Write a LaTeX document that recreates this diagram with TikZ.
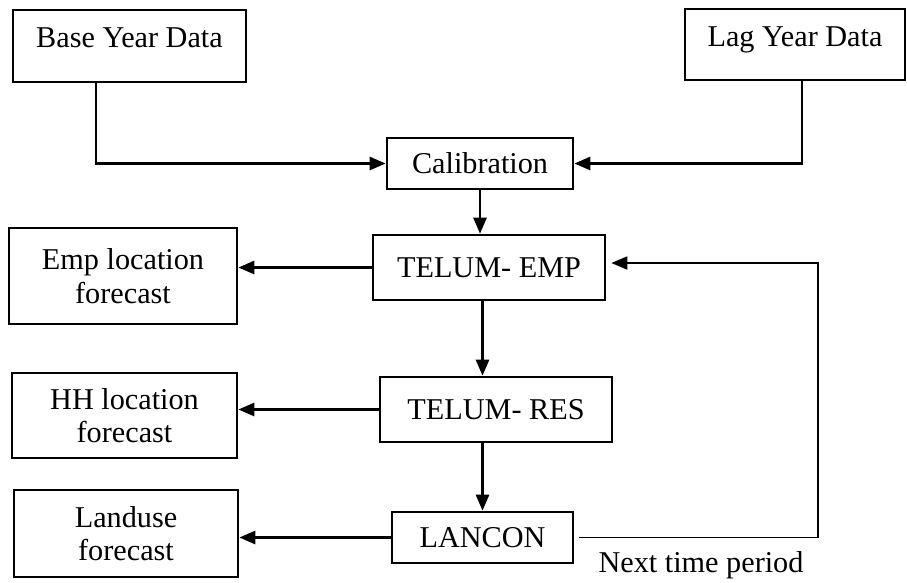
\documentclass[tikz,border=0pt]{standalone}
\usepackage{fontspec}
\setmainfont{Liberation Serif}
\usetikzlibrary{arrows.meta}

\begin{document}
\begin{tikzpicture}[x=1cm, y=1cm, line width=0.75pt,
    box/.style={draw, inner sep=0pt, align=center, font=\fontsize{8.6}{9.5}\selectfont},
    arr/.style={-{Triangle[length=0.16cm, width=0.13cm]}}]
    \useasboundingbox (0,0) rectangle (9.07,5.82);

    % input data and model chain
    \node[box, minimum width=2.33cm, minimum height=0.72cm, text depth=0.16cm] (base) at (1.295, 5.36) {Base Year Data};
    \node[box, minimum width=2.20cm, minimum height=0.71cm, text depth=0.16cm] (lag) at (7.95, 5.375) {Lag Year Data};
    \node[box, minimum width=1.86cm, minimum height=0.51cm] (calib) at (4.80, 4.185) {Calibration};
    \node[box, minimum width=2.32cm, minimum height=0.65cm] (emp) at (4.89, 3.145) {TELUM- EMP};
    \node[box, minimum width=2.32cm, minimum height=0.65cm] (res) at (4.96, 1.725) {TELUM- RES};
    \node[box, minimum width=1.81cm, minimum height=0.51cm] (lancon) at (4.825, 0.445) {LANCON};

    % forecasts
    \node[box, minimum width=2.28cm, minimum height=0.96cm] (empfc) at (1.23, 3.06) {Emp location\\forecast};
    \node[box, minimum width=2.25cm, minimum height=0.85cm] (hhfc) at (1.245, 1.665) {HH location\\forecast};
    \node[box, minimum width=2.24cm, minimum height=0.87cm] (landfc) at (1.26, 0.485) {Landuse\\forecast};

    \node[font=\fontsize{8.6}{9.5}\selectfont, anchor=base] (nextlbl) at (7.01, 0.10) {Next time period};

    \draw[arr] ([xshift=-0.335cm]base.south) |- (calib.west);
    \draw[arr] ([xshift=0.07cm]lag.south) |- (calib.east);
    \draw[arr] (calib.south) -- (calib.south |- emp.north);
    \draw[arr] (emp.south -| lancon.north) -- (res.north -| lancon.north);
    \draw[arr] (res.south -| lancon.north) -- (lancon.north);

    \draw[arr] (emp.west) -- (emp.west -| empfc.east);
    \draw[arr] (res.west) -- (res.west -| hhfc.east);
    \draw[arr] (lancon.west) -- (lancon.west -| landfc.east);

    % feedback loop
    \coordinate (looptop) at (8.18, 3.19);
    \draw[arr, line width=0.5pt] ([xshift=0.05cm]lancon.east) -| (looptop) -- ([xshift=0.05cm]looptop -| emp.east);
\end{tikzpicture}
\end{document}
